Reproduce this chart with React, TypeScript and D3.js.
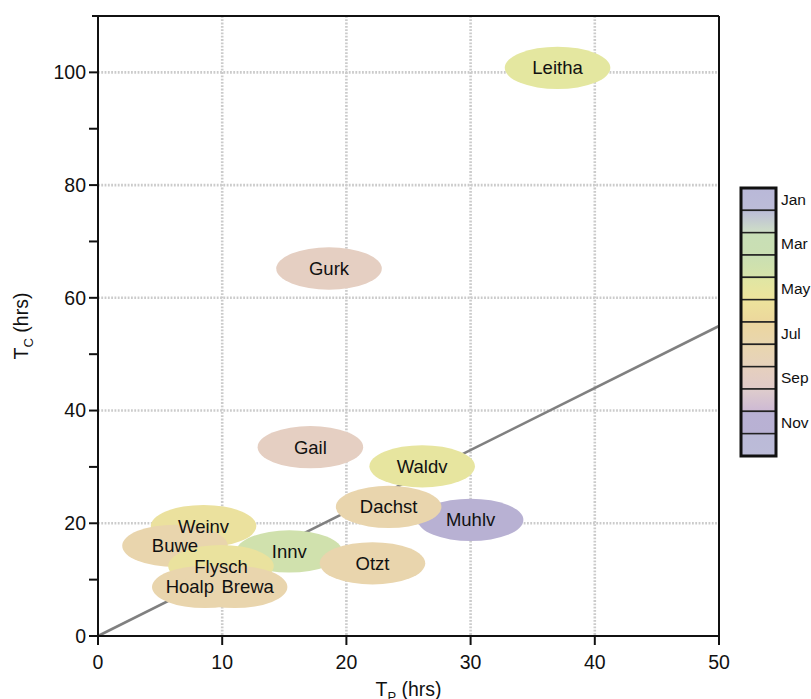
import { useEffect, useRef } from "react";
import * as d3 from "d3";

// catchments: time to peak (TP) vs concentration time (TC), coloured by month
const stations = ["Muhlv", "Innv", "Weinv", "Buwe", "Flysch", "Hoalp", "Brewa", "Otzt", "Dachst", "Waldv", "Gail", "Gurk", "Leitha"];
const tpHrs = [30.0, 15.4, 8.5, 6.2, 9.9, 8.6, 11.0, 22.1, 23.4, 26.1, 17.1, 18.6, 37.0];
const tcHrs = [20.6, 15.0, 19.5, 16.0, 12.4, 8.7, 8.7, 12.9, 22.9, 30.1, 33.5, 65.2, 100.8];
const peakMonth = [11, 4, 5.8, 7.5, 5.7, 7.5, 7.5, 7.5, 7.5, 5.3, 9, 9, 5];

const monthNames = ["Jan", "Feb", "Mar", "Apr", "May", "Jun", "Jul", "Aug", "Sep", "Oct", "Nov", "Dec"];
const monthColors = ["#bab9d8", "#c4cad2", "#c9dfb4", "#d0e1ad", "#e4e7a0", "#ede09d", "#ead6a5", "#e7d4b4", "#e5cfc2", "#d9c7d4", "#b8b1d3", "#bbbad8"];
const cellTop = ["#b9b8d8", "#bbbcd8", "#c8dfb6", "#c9dfb3", "#dfe6a4", "#ede39c", "#ecd69f", "#e9d6ae", "#e6d0be", "#dfcdcc", "#b9b1d4", "#bbbad8"];
const cellBottom = ["#bcbcd8", "#cfdfc6", "#cadfb3", "#d6e3a9", "#eee49c", "#ecd79c", "#e8d6ae", "#e6d2bc", "#e0cac8", "#cdb9d4", "#b8b1d3", "#bcbcd8"];

const xTicks = [0, 10, 20, 30, 40, 50];
const yTicks = [0, 20, 40, 60, 80, 100];
const yMinorTicks = [10, 30, 50, 70, 90];
const lineSlope = 1.1;

const LABEL_DX: Record<string, number> = { Hoalp: -15, Brewa: 13 };
const FONT = "Liberation Sans, Arial, Helvetica, sans-serif";

export default function App() {
  const ref = useRef<SVGSVGElement>(null);

  useEffect(() => {
    const svg = d3.select(ref.current);
    svg.selectAll("*").remove();

    const M = { left: 98, right: 719, top: 16, bottom: 636 };
    const x = d3.scaleLinear().domain([0, 50]).range([M.left, M.right]);
    const y = d3.scaleLinear().domain([0, 110]).range([M.bottom, M.top]);
    const color = d3.scaleLinear<string>()
      .domain(d3.range(1, 13))
      .range(monthColors)
      .interpolate(d3.interpolateRgb);

    // grid
    const grid = svg.append("g")
      .attr("stroke", "#cbcbcb")
      .attr("stroke-width", 2.6)
      .attr("stroke-dasharray", "1.8,1.5");
    grid.selectAll(".gx").data(xTicks.slice(1, -1)).join("line")
      .attr("x1", d => x(d)).attr("x2", d => x(d))
      .attr("y1", M.top).attr("y2", M.bottom);
    grid.selectAll(".gy").data(yTicks.slice(1)).join("line")
      .attr("x1", M.left).attr("x2", M.right)
      .attr("y1", d => y(d)).attr("y2", d => y(d));

    // 1:1.1 line
    svg.append("line")
      .attr("x1", x(0)).attr("y1", y(0))
      .attr("x2", x(50)).attr("y2", y(50 * lineSlope))
      .attr("stroke", "#808080").attr("stroke-width", 2.6);

    // ellipses
    const rx = x(4.25) - x(0);
    const ry = y(0) - y(3.75);
    const idx = d3.range(stations.length);
    svg.append("g").selectAll("ellipse").data(idx).join("ellipse")
      .attr("cx", i => x(tpHrs[i]))
      .attr("cy", i => y(tcHrs[i]))
      .attr("rx", rx).attr("ry", ry)
      .attr("fill", i => color(peakMonth[i]));
    svg.append("g").selectAll("text").data(idx).join("text")
      .attr("x", i => x(tpHrs[i]) + (LABEL_DX[stations[i]] || 0))
      .attr("y", i => y(tcHrs[i]))
      .attr("dy", "0.35em")
      .attr("text-anchor", "middle")
      .attr("font-family", FONT)
      .attr("font-size", 18.5)
      .attr("fill", "#111")
      .text(i => stations[i]);

    // axes frame
    const ax = svg.append("g").attr("stroke", "#111").attr("stroke-width", 2);
    ax.append("line").attr("x1", 92).attr("x2", M.right).attr("y1", M.top).attr("y2", M.top);
    ax.append("line").attr("x1", M.right).attr("x2", M.right).attr("y1", M.top).attr("y2", M.bottom + 9);
    ax.append("line").attr("x1", M.left).attr("x2", M.left).attr("y1", M.top).attr("y2", M.bottom + 9);
    ax.append("line").attr("x1", M.left - 9).attr("x2", M.right).attr("y1", M.bottom).attr("y2", M.bottom);
    ax.selectAll(".tx").data(xTicks).join("line")
      .attr("x1", d => x(d)).attr("x2", d => x(d))
      .attr("y1", M.bottom).attr("y2", M.bottom + 9);
    ax.selectAll(".ty").data([...yTicks, ...yMinorTicks]).join("line")
      .attr("x1", M.left - 9).attr("x2", M.left)
      .attr("y1", d => y(d)).attr("y2", d => y(d));

    const labels = svg.append("g").attr("font-family", FONT).attr("font-size", 19.5).attr("fill", "#111");
    labels.selectAll(".lx").data(xTicks).join("text")
      .attr("x", d => x(d)).attr("y", 669)
      .attr("text-anchor", "middle")
      .text(d => d);
    labels.selectAll(".ly").data(yTicks).join("text")
      .attr("x", 86).attr("y", d => y(d)).attr("dy", "0.35em")
      .attr("text-anchor", "end")
      .text(d => d);

    // axis titles
    const xt = labels.append("text").attr("x", (M.left + M.right) / 2).attr("y", 696).attr("text-anchor", "middle");
    xt.append("tspan").text("T");
    xt.append("tspan").attr("font-size", 13).attr("dy", 5).text("P");
    xt.append("tspan").attr("dy", -5).text(" (hrs)");
    const yt = labels.append("text")
      .attr("transform", `translate(28,${(M.top + M.bottom) / 2}) rotate(-90)`)
      .attr("text-anchor", "middle");
    yt.append("tspan").text("T");
    yt.append("tspan").attr("font-size", 13).attr("dy", 5).text("C");
    yt.append("tspan").attr("dy", -5).text(" (hrs)");

    // colour bar
    const cb = { x: 741, y: 188, w: 35, h: 268 };
    const cy = d3.scaleBand<number>().domain(d3.range(12)).range([cb.y, cb.y + cb.h]);
    const defs = svg.append("defs");
    d3.range(12).forEach(i => {
      const g = defs.append("linearGradient").attr("id", `cell${i}`).attr("x1", 0).attr("x2", 0).attr("y1", 0).attr("y2", 1);
      g.append("stop").attr("offset", "0%").attr("stop-color", cellTop[i]);
      g.append("stop").attr("offset", "100%").attr("stop-color", cellBottom[i]);
    });
    const cbg = svg.append("g");
    cbg.selectAll("rect").data(d3.range(12)).join("rect")
      .attr("x", cb.x).attr("y", i => cy(i)!)
      .attr("width", cb.w).attr("height", cy.bandwidth())
      .attr("fill", i => `url(#cell${i})`)
      .attr("stroke", "#222").attr("stroke-width", 1.5);
    cbg.append("rect")
      .attr("x", cb.x).attr("y", cb.y).attr("width", cb.w).attr("height", cb.h)
      .attr("fill", "none").attr("stroke", "#111").attr("stroke-width", 3);
    cbg.selectAll("text").data(d3.range(0, 12, 2)).join("text")
      .attr("x", 781).attr("y", i => cy(i)! + cy.bandwidth() / 2)
      .attr("dy", "0.35em")
      .attr("font-family", FONT).attr("font-size", 15.5).attr("fill", "#111")
      .text(i => monthNames[i]);
  }, []);

  return (
    <svg ref={ref} width={811} height={699}
      style={{ position: "absolute", left: 0, top: 0, background: "#fff" }} />
  );
}
